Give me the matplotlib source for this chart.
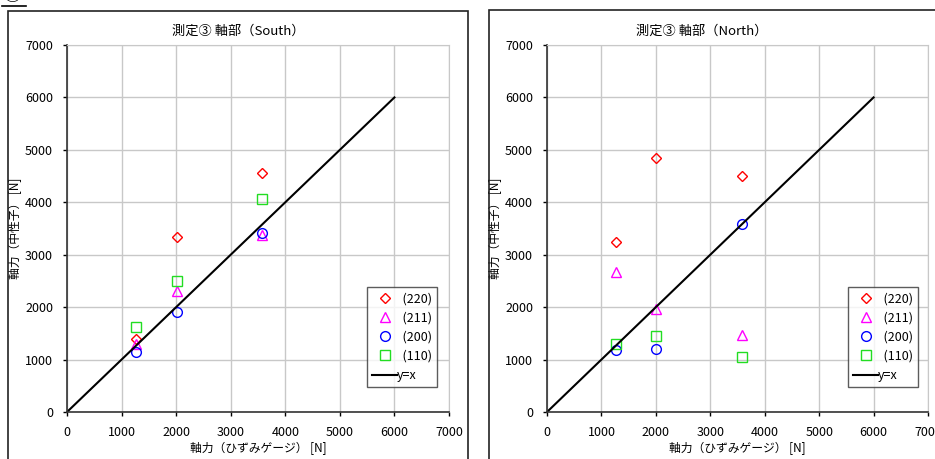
import matplotlib
matplotlib.use('Agg')
import matplotlib.pyplot as plt
from matplotlib.patches import Rectangle
from matplotlib.lines import Line2D

plt.rcParams['font.family'] = ['Noto Sans CJK JP', 'DejaVu Sans']
plt.rcParams['font.size'] = 8

# strain gauge axial force [N]
gauge = [1260, 2010, 3575]

# neutron axial force [N], per lattice plane
south = {
    '(220)': [1390, 3330, 4550],
    '(211)': [1290, 2310, 3380],
    '(200)': [1140, 1910, 3410],
    '(110)': [1620, 2500, 4060],
}
north = {
    '(220)': [3240, 4850, 4510],
    '(211)': [2670, 1960, 1470],
    '(200)': [1190, 1200, 3580],
    '(110)': [1300, 1450, 1040],
}
planes = ['(220)', '(211)', '(200)', '(110)']
titles = ['測定③ 軸部（South）', '測定③ 軸部（North）']
ref_line = [0, 6000]

styles = {
    '(220)': dict(marker='D', color='#ff0000', ms=5.0),
    '(211)': dict(marker='^', color='#ff00ff', ms=7.5),
    '(200)': dict(marker='o', color='#0000ff', ms=7.0),
    '(110)': dict(marker='s', color='#22dd22', ms=7.0),
}

W, H = 935, 459
fig = plt.figure(figsize=(W / 100, H / 100), dpi=100)

def px_axes(x0, y0, x1, y1):
    return fig.add_axes([x0 / W, 1 - y1 / H, (x1 - x0) / W, (y1 - y0) / H])

# chart area frames
fig.patches.append(Rectangle((8 / W, -0.1), 460 / W, 1.1 - 11 / H, transform=fig.transFigure,
                             fill=False, ec='#222222', lw=1.2))
fig.patches.append(Rectangle((489 / W, -0.1), 500 / W, 1.1 - 10 / H, transform=fig.transFigure,
                             fill=False, ec='#222222', lw=1.2))
fig.text(2 / W, 1 - 5 / H, '③', fontsize=14, va='bottom', ha='left')
fig.add_artist(Line2D([2 / W, 26 / W], [1 - 6 / H, 1 - 6 / H], color='black', lw=1.2))

axes_px = [(67, 45, 449, 412), (547, 45, 928, 412)]
title_x = [238, 702]
legend_anchor = [(0.969, 0.068), (0.974, 0.068)]

for i, data in enumerate([south, north]):
    ax = px_axes(*axes_px[i])
    for p in planes:
        st = styles[p]
        ax.plot(gauge, data[p], ls='none', marker=st['marker'], ms=st['ms'],
                mfc='none', mec=st['color'], mew=1.0, label='  ' + p)
    ax.plot(ref_line, ref_line, color='black', lw=1.5, label='y=x')
    ax.set_xlim(0, 7000)
    ax.set_ylim(0, 7000)
    ax.set_xticks(range(0, 7001, 1000))
    ax.set_yticks(range(0, 7001, 1000))
    ax.grid(True, color='#c8c8c8', lw=1.0)
    ax.set_axisbelow(True)
    for s in ['top', 'right']:
        ax.spines[s].set_color('#c8c8c8')
    for s in ['left', 'bottom']:
        ax.spines[s].set_color('#333333')
        ax.spines[s].set_linewidth(1.2)
    ax.tick_params(direction='out', length=3, width=1, pad=7, labelsize=9,
                   top=False, right=False)
    ax.set_xlabel('軸力（ひずみゲージ） [N]', fontsize=8.5, labelpad=2)
    ax.set_ylabel('軸力（中性子） [N]', fontsize=8.5, labelpad=2)
    leg = ax.legend(loc='lower right', bbox_to_anchor=legend_anchor[i], fontsize=9,
                    frameon=True, fancybox=False, edgecolor='#333333',
                    borderpad=0.4, labelspacing=0.5, handlelength=2.0,
                    handletextpad=0.0, borderaxespad=0)
    leg.get_frame().set_linewidth(1.0)
    fig.text(title_x[i] / W, 1 - 31 / H, titles[i], fontsize=9.5, ha='center', va='center')

fig.savefig('out.png', dpi=100)
